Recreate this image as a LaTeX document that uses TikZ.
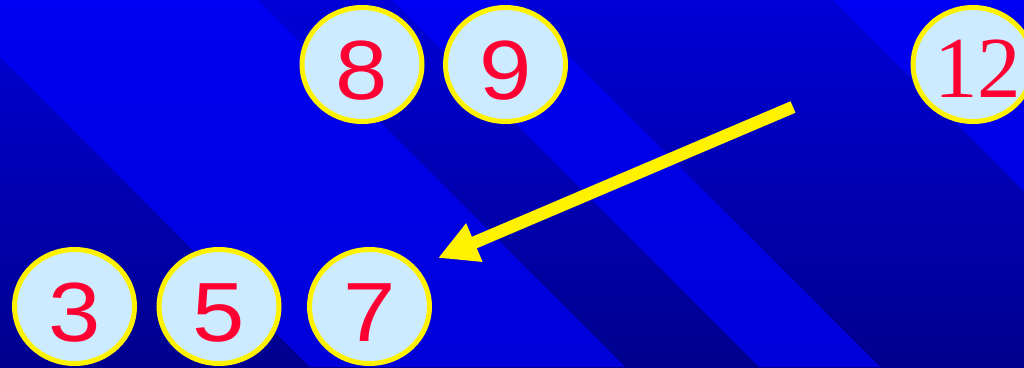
\documentclass[tikz,border=0pt]{standalone}
\usepackage{fontspec}
\setmainfont{Liberation Sans}
\newfontfamily\serifnum{Liberation Serif}
\usetikzlibrary{shapes.geometric,arrows.meta}
\definecolor{lightfill}{RGB}{204,235,255}
\definecolor{numred}{RGB}{255,0,51}
\definecolor{darktop}{RGB}{0,0,215}
\definecolor{darkbot}{RGB}{0,0,142}
\definecolor{lighttop}{RGB}{0,0,242}
\definecolor{lightbot}{RGB}{0,0,218}
\begin{document}
\begin{tikzpicture}[x=1pt,y=-1pt,
  numcircle/.style={ellipse, draw=yellow, line width=5pt, fill=lightfill,
    minimum width=120pt, minimum height=114pt, inner sep=0pt, text=numred,
    font=\fontsize{84}{84}\selectfont, text height=69pt, text depth=0pt},
  serifcircle/.style={numcircle, font=\serifnum\fontsize{87}{87}\selectfont, text height=65pt},
  arrowline/.style={yellow, line width=12.5pt, line cap=butt,
    -{Triangle[length=39.5pt,width=39pt]}}]
\clip (0,0) rectangle (1024,367);
% background
\fill[top color=darktop, bottom color=darkbot] (0,0) rectangle (1024,367);
\shade[top color=lighttop, bottom color=lightbot]
  (-57,0) -- (258,0) -- (625,367) -- (310,367) -- cycle
  (392,0) -- (513,0) -- (880,367) -- (759,367) -- cycle
  (833,0) -- (1200,0) -- (1200,367) -- cycle;
% circles
\node[numcircle] (n8) at (362,64.5) {\scalebox{1.12}[1]{8}};
\node[numcircle] (n9) at (505.5,64.5) {\scalebox{1.12}[1]{9}};
\node[serifcircle] (n12) at (973,64.5) {\makebox[40pt]{\hspace{9pt}12}};
\node[numcircle] (n3) at (74.5,306.5) {\scalebox{1.12}[1]{3}};
\node[numcircle] (n5) at (219,306.5) {\scalebox{1.12}[1]{5}};
\node[numcircle] (n7) at (369.5,306.5) {\scalebox{1.12}[1]{7}};
% arrow
\coordinate (tail) at (793,107);
\coordinate (tip) at (438,258);
\draw[arrowline] (tail) -- (tip);
\end{tikzpicture}
\end{document}
